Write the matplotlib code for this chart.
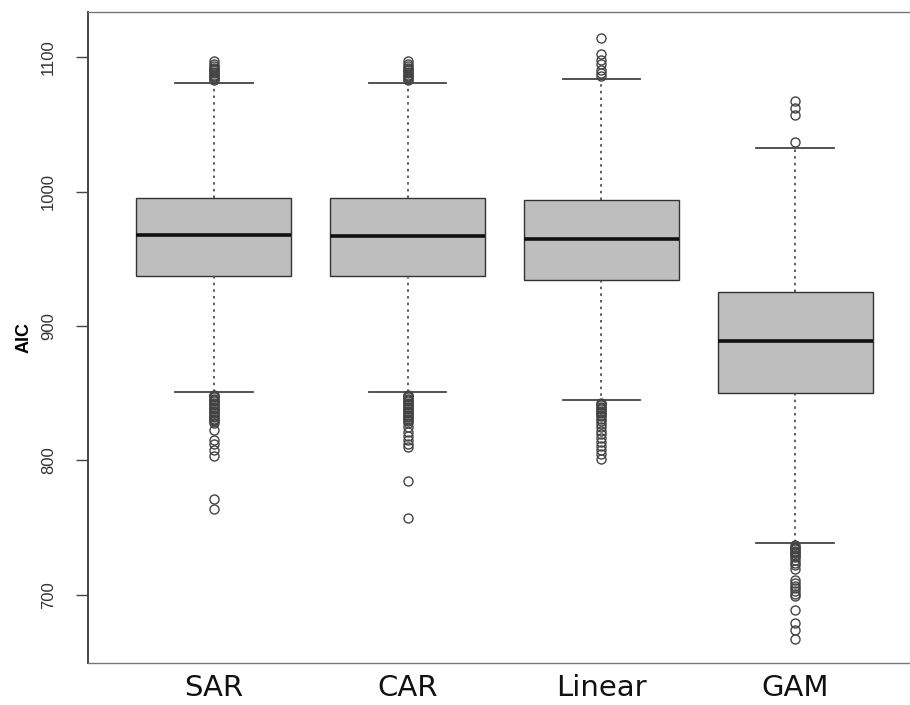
import matplotlib
matplotlib.use("Agg")
import matplotlib.pyplot as plt
from matplotlib import font_manager

categories = ["SAR", "CAR", "Linear", "GAM"]

q1 = [937, 937, 934, 850]
median = [968, 967, 965, 889]
q3 = [995, 995, 994, 925]
whisker_low = [851, 851, 845, 739]
whisker_high = [1081, 1081, 1084, 1032]

outliers_sar = [1083, 1084, 1085, 1086, 1087, 1088, 1089, 1090, 1091, 1092, 1093, 1095, 1097,
                849, 848, 847, 846, 845, 844, 843, 842, 841, 840, 839, 838, 837, 836, 835, 834,
                833, 832, 831, 830, 829, 828, 823, 815, 812, 808, 803, 771, 764]
outliers_car = [1083, 1084, 1085, 1086, 1087, 1088, 1089, 1090, 1091, 1092, 1093, 1095, 1097,
                849, 848, 847, 846, 845, 844, 843, 842, 841, 840, 839, 838, 837, 836, 835, 834,
                833, 832, 831, 830, 829, 828, 825, 821, 818, 815, 812, 810, 785, 757]
outliers_linear = [1086, 1088, 1090, 1095, 1098, 1102, 1114,
                   843, 842, 841, 840, 839, 838, 837, 836, 835, 834, 833, 831, 829, 827, 825,
                   822, 820, 817, 814, 811, 808, 805, 801]
outliers_gam = [1037, 1057, 1062, 1067,
                737, 736, 735, 734, 733, 732, 731, 730, 729, 728, 726, 724, 722, 719,
                711, 709, 707, 705, 703, 701, 699, 689, 679, 674, 667]
outliers = [outliers_sar, outliers_car, outliers_linear, outliers_gam]

yticks = [700, 800, 900, 1000, 1100]

names = {f.name for f in font_manager.fontManager.ttflist}
tick_font = "Liberation Sans Narrow" if "Liberation Sans Narrow" in names else "Liberation Sans"

fig = plt.figure(figsize=(9.1, 7.05), dpi=100)
ax = fig.add_axes([88/910, 1-663/705, (923-88)/910, (663-12)/705])

stats = []
for i, c in enumerate(categories):
    stats.append(dict(label=c, q1=q1[i], med=median[i], q3=q3[i],
                      whislo=whisker_low[i], whishi=whisker_high[i], fliers=outliers[i]))

ax.bxp(stats, positions=[1, 2, 3, 4], widths=0.8, patch_artist=True, showfliers=True,
       boxprops=dict(facecolor="#BEBEBE", edgecolor="#333333", linewidth=1.0),
       medianprops=dict(color="#111111", linewidth=2.6, solid_capstyle="butt"),
       whiskerprops=dict(color="#444444", linewidth=1.2, linestyle=(0, (1.5, 2.5))),
       capprops=dict(color="#444444", linewidth=1.3),
       capwidths=0.4,
       flierprops=dict(marker="o", markerfacecolor="none", markeredgecolor="#444444",
                       markersize=6.5, markeredgewidth=1.0, linestyle="none"))

ax.set_xlim(0.35, 4.66)
ax.set_ylim(649.4, 1133.5)
ax.set_yticks(yticks)
ax.set_yticklabels([str(v) for v in yticks], rotation=90, va="center",
                   fontsize=12, family=tick_font, color="#333333")
ax.tick_params(axis="y", length=9, width=1.0, color="#444444", pad=14)
ax.tick_params(axis="x", length=0, pad=8)
ax.set_xticks([1, 2, 3, 4])
ax.set_xticklabels(categories, fontsize=21, family="DejaVu Sans", color="#111111")
ax.set_ylabel("AIC", fontsize=13, fontweight="bold", family="Liberation Sans", labelpad=6)

for s in ax.spines.values():
    s.set_color("#777777")
    s.set_linewidth(1.0)
ax.spines["left"].set_color("#444444")
ax.spines["left"].set_linewidth(1.4)

fig.savefig("out.png", dpi=100)
